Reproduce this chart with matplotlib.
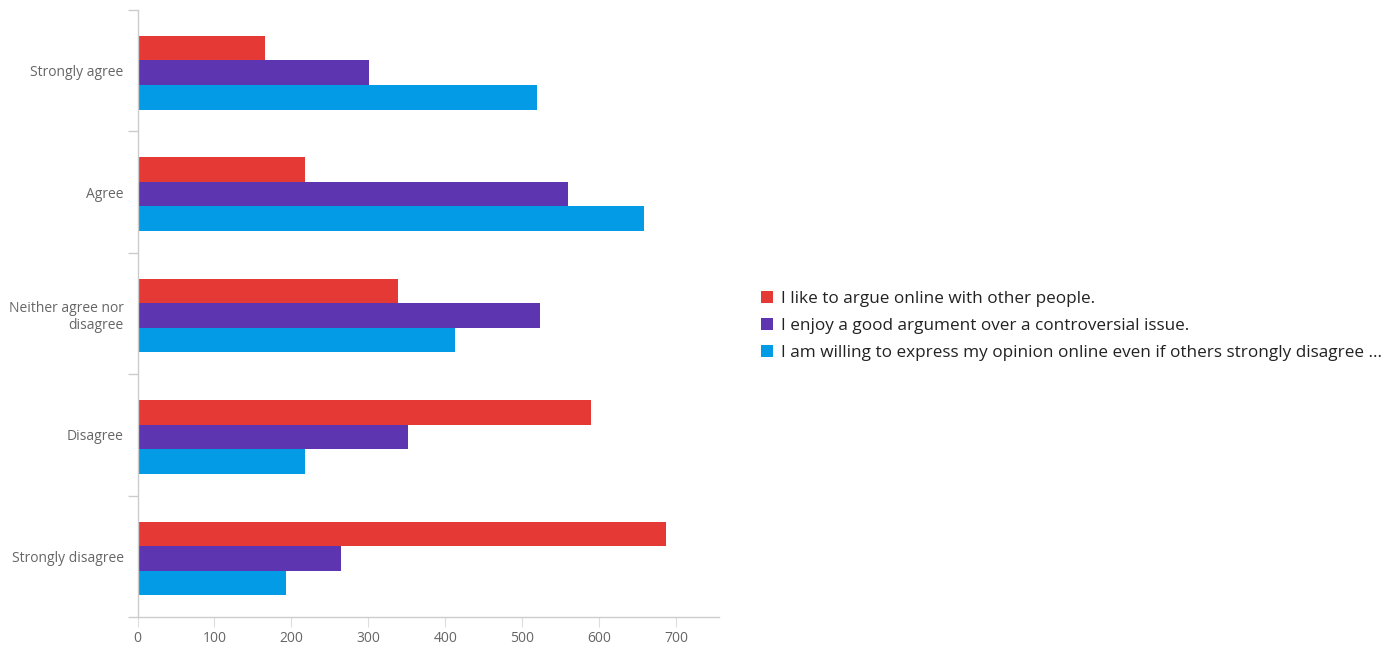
import numpy as np
import matplotlib.pyplot as plt
from matplotlib.ticker import FixedLocator

# ===== data =====
categories = ["Strongly agree", "Agree", "Neither agree nor\ndisagree",
              "Disagree", "Strongly disagree"]
series_names = [
    "I like to argue online with other people.",
    "I enjoy a good argument over a controversial issue.",
    "I am willing to express my opinion online even if others strongly disagree ...",
]
argue_online = [165, 218, 339, 589, 687]
good_argument = [301, 559, 523, 351, 265]
express_opinion = [519, 658, 412, 217, 193]
x_ticks = [0, 100, 200, 300, 400, 500, 600, 700]

colors = ["#e53935", "#5e35b1", "#039be5"]

plt.rcParams["font.family"] = ["Open Sans", "DejaVu Sans"]

fig = plt.figure(figsize=(13.92, 6.48), dpi=100)
ax = fig.add_axes([0.0988, 0.0478, 0.4174, 0.9368])

y = np.arange(len(categories))
h = 0.202
for i, (vals, name) in enumerate(zip([argue_online, good_argument, express_opinion], series_names)):
    ax.barh(y + (i - 1) * h + 0.017, vals, height=h, color=colors[i], label=name)

ax.set_ylim(len(categories) - 0.5, -0.5)
ax.set_xlim(0, 755)

ax.set_yticks(y)
ax.set_yticklabels(categories, fontsize=10, color="#666666", linespacing=1.25)
ax.tick_params(axis="y", which="major", length=0, pad=10)
ax.yaxis.set_minor_locator(FixedLocator(np.arange(-0.5, len(categories), 1.0)))
ax.tick_params(axis="y", which="minor", length=7, color="#cccccc", width=1)

ax.set_xticks(x_ticks)
ax.tick_params(axis="x", length=7, color="#dddddd", labelsize=10,
               labelcolor="#666666", pad=3)

for s in ["top", "right"]:
    ax.spines[s].set_visible(False)
for s in ["left", "bottom"]:
    ax.spines[s].set_color("#cccccc")
    ax.spines[s].set_linewidth(1)

fig.legend(loc="center left", bbox_to_anchor=(0.536, 0.497), frameon=False,
           fontsize=12.3, handlelength=0.7, handleheight=0.7,
           handletextpad=0.45, labelspacing=0.62, labelcolor="#222222")

fig.savefig("out.png", dpi=100)
